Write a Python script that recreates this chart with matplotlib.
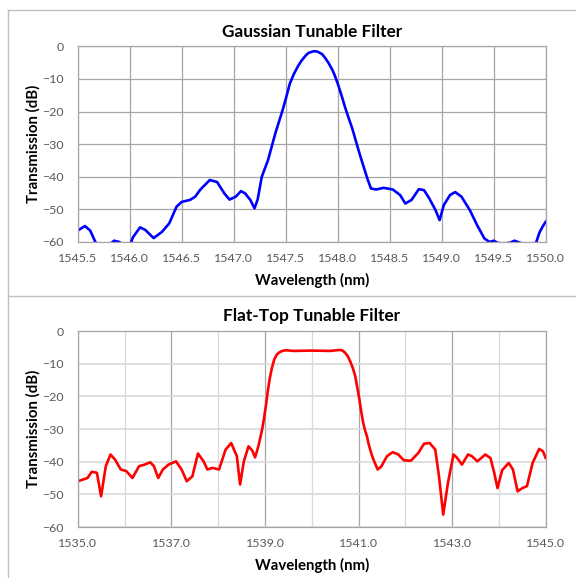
import matplotlib.pyplot as plt
from matplotlib.lines import Line2D
import numpy as np

plt.rcParams['font.family'] = ['Lato', 'DejaVu Sans']

# Gaussian tunable filter (nm, dB)
gauss_wl = [1545.50, 1545.57, 1545.62, 1545.67, 1545.72, 1545.80, 1545.85, 1545.90,
            1545.96, 1546.01, 1546.03, 1546.10, 1546.15, 1546.23, 1546.31, 1546.38,
            1546.45, 1546.50, 1546.58, 1546.63, 1546.68, 1546.77, 1546.84, 1546.91,
            1546.96, 1547.02, 1547.07, 1547.11, 1547.16, 1547.20, 1547.23, 1547.27,
            1547.33, 1547.40, 1547.47, 1547.50, 1547.54, 1547.58, 1547.62, 1547.65,
            1547.69, 1547.72, 1547.76, 1547.78, 1547.81, 1547.85, 1547.88, 1547.91,
            1547.95, 1547.97, 1548.00, 1548.04, 1548.07, 1548.10, 1548.14, 1548.17,
            1548.21, 1548.25, 1548.29, 1548.32,
            1548.37, 1548.44, 1548.53, 1548.60, 1548.65, 1548.71, 1548.78, 1548.83,
            1548.88, 1548.94, 1548.98, 1549.02, 1549.08, 1549.13, 1549.19, 1549.27,
            1549.34, 1549.41, 1549.46, 1549.50, 1549.54, 1549.60, 1549.66, 1549.70,
            1549.75, 1549.82, 1549.88, 1549.91, 1549.94, 1549.97, 1550.00]
gauss_db = [-56.5, -55.1, -56.5, -60.0, -62.0, -61.0, -59.6, -60.0,
            -61.5, -60.5, -58.6, -55.5, -56.3, -58.8, -56.9, -54.3,
            -49.2, -47.7, -47.1, -46.1, -43.9, -41.0, -41.6, -45.1,
            -47.0, -46.1, -44.4, -45.1, -47.1, -49.7, -47.0, -40.0,
            -34.9, -26.7, -19.6, -16.2, -11.4, -8.4, -6.0, -4.5,
            -2.9, -2.0, -1.6, -1.5, -1.7, -2.4, -3.6, -5.0,
            -7.3, -8.8, -11.4, -15.4, -18.6, -21.5, -25.2, -28.5,
            -32.9, -37.0, -41.0, -43.6,
            -43.9, -43.4, -43.9, -45.6, -48.2, -47.1, -43.8, -44.1,
            -46.6, -50.2, -53.3, -48.7, -45.6, -44.7, -46.1, -50.2,
            -54.8, -58.9, -60.0, -59.6, -60.3, -60.5, -60.2, -59.6,
            -60.2, -61.0, -61.0, -60.0, -57.1, -55.3, -53.8]

# Flat-top tunable filter (nm, dB)
flat_wl = [1535.00, 1535.21, 1535.30, 1535.41, 1535.50, 1535.60, 1535.70, 1535.80,
           1535.92, 1536.04, 1536.17, 1536.31, 1536.43, 1536.55, 1536.63, 1536.72,
           1536.82, 1536.94, 1537.10, 1537.22, 1537.33, 1537.45, 1537.57, 1537.69,
           1537.77, 1537.88, 1538.02, 1538.16, 1538.28, 1538.40, 1538.47, 1538.55,
           1538.65, 1538.73, 1538.79, 1538.86, 1538.94, 1538.98, 1539.02, 1539.06,
           1539.10, 1539.15, 1539.20, 1539.25, 1539.30, 1539.37, 1539.45, 1539.61,
           1540.00, 1540.39, 1540.59, 1540.65, 1540.71, 1540.77, 1540.82, 1540.88,
           1540.93, 1540.97, 1541.02, 1541.06, 1541.10, 1541.14, 1541.18, 1541.22,
           1541.27, 1541.31, 1541.35, 1541.41, 1541.49,
           1541.61, 1541.73, 1541.85, 1541.97, 1542.12, 1542.28, 1542.40, 1542.52,
           1542.64, 1542.72, 1542.81, 1542.91, 1543.03, 1543.11, 1543.21, 1543.34,
           1543.42, 1543.54, 1543.71, 1543.82, 1543.90, 1543.97, 1544.07, 1544.21,
           1544.30, 1544.40, 1544.50, 1544.60, 1544.72, 1544.86, 1544.94, 1545.00]
flat_db = [-46.0, -45.0, -43.1, -43.4, -50.6, -41.4, -37.8, -39.4,
           -42.4, -42.9, -45.0, -41.4, -40.9, -40.2, -41.4, -45.0,
           -42.4, -40.9, -39.9, -42.4, -46.0, -44.5, -37.5, -39.9,
           -42.4, -41.9, -42.4, -36.3, -34.3, -38.3, -47.0, -39.9,
           -35.3, -36.6, -38.7, -35.3, -30.2, -26.8, -23.0, -18.6,
           -14.8, -11.3, -8.7, -7.3, -6.6, -6.1, -5.9, -6.1,
           -6.0, -6.1, -5.8, -5.9, -6.6, -7.7, -9.2, -11.4,
           -13.8, -17.0, -21.0, -24.8, -28.1, -30.4, -32.2, -34.8,
           -37.3, -39.0, -40.4, -42.4, -41.4,
           -38.3, -37.1, -37.8, -39.6, -39.7, -37.3, -34.5, -34.3,
           -36.3, -44.5, -56.2, -46.6, -37.8, -38.9, -40.9, -37.8,
           -38.3, -39.9, -37.8, -38.9, -43.4, -48.1, -42.6, -40.4,
           -42.4, -49.1, -48.1, -47.5, -40.4, -36.1, -36.8, -38.9]

W, H = 576, 578
fig = plt.figure(figsize=(W / 100, H / 100), dpi=100)

def add_axes_px(x0, y0, x1, y1):
    return fig.add_axes([x0 / W, 1 - y1 / H, (x1 - x0) / W, (y1 - y0) / H])

tick_color = '#595959'
title_kw = dict(fontsize=12.4, fontweight='bold', color='black', pad=7)
label_kw = dict(fontsize=10.8, fontweight='bold', color='black')

# top panel
ax1 = add_axes_px(77.7, 46.3, 545.7, 242)
ax1.plot(gauss_wl, gauss_db, color='#0000FF', lw=1.9)
ax1.set_xlim(1545.5, 1550.0)
ax1.set_ylim(-60, 0)
ax1.set_xticks(np.arange(1545.5, 1550.01, 0.5))
ax1.set_xticklabels([f'{v:.1f}' for v in np.arange(1545.5, 1550.01, 0.5)])
ax1.set_yticks(range(-60, 1, 10))
ax1.grid(True, color='#A6A6A6', lw=0.9)
ax1.set_title('Gaussian Tunable Filter', **title_kw)
ax1.set_xlabel('Wavelength (nm)', labelpad=6, **label_kw)
ax1.set_ylabel('Transmission (dB)', labelpad=1.5, **label_kw)

# bottom panel
ax2 = add_axes_px(77.7, 331, 545.7, 527)
ax2.plot(flat_wl, flat_db, color='#FF0000', lw=1.9)
ax2.set_xlim(1535.0, 1545.0)
ax2.set_ylim(-60, 0)
ax2.set_xticks(np.arange(1535, 1545.1, 2))
ax2.set_xticklabels([f'{v:.1f}' for v in np.arange(1535, 1545.1, 2)])
ax2.set_xticks(np.arange(1536, 1545, 2), minor=True)
ax2.set_yticks(range(-60, 1, 10))
ax2.grid(True, which='major', axis='x', color='#A6A6A6', lw=0.9)
ax2.grid(True, which='minor', axis='x', color='#D9D9D9', lw=0.9)
ax2.grid(True, which='major', axis='y', color='#D9D9D9', lw=1.2)
ax2.set_title('Flat-Top Tunable Filter', **title_kw)
ax2.set_xlabel('Wavelength (nm)', labelpad=6, **label_kw)
ax2.set_ylabel('Transmission (dB)', labelpad=1.5, **label_kw)

for ax in (ax1, ax2):
    ax.set_axisbelow(True)
    ax.tick_params(which='both', length=0, labelsize=8.9, colors=tick_color)
    ax.tick_params(axis='x', pad=8)
    ax.tick_params(axis='y', pad=10)
    for s in ax.spines.values():
        s.set_color('#A6A6A6')
        s.set_linewidth(0.9)

# chart frame lines
fc = '#BFBFBF'
fig.add_artist(Line2D([8 / W, 8 / W], [0, 1 - 10 / H], transform=fig.transFigure, color=fc, lw=1))
fig.add_artist(Line2D([8 / W, 1], [1 - 10 / H, 1 - 10 / H], transform=fig.transFigure, color=fc, lw=1))
fig.add_artist(Line2D([8 / W, 1], [1 - 295.5 / H, 1 - 295.5 / H], transform=fig.transFigure, color=fc, lw=1))

fig.savefig('out.png', dpi=100)
